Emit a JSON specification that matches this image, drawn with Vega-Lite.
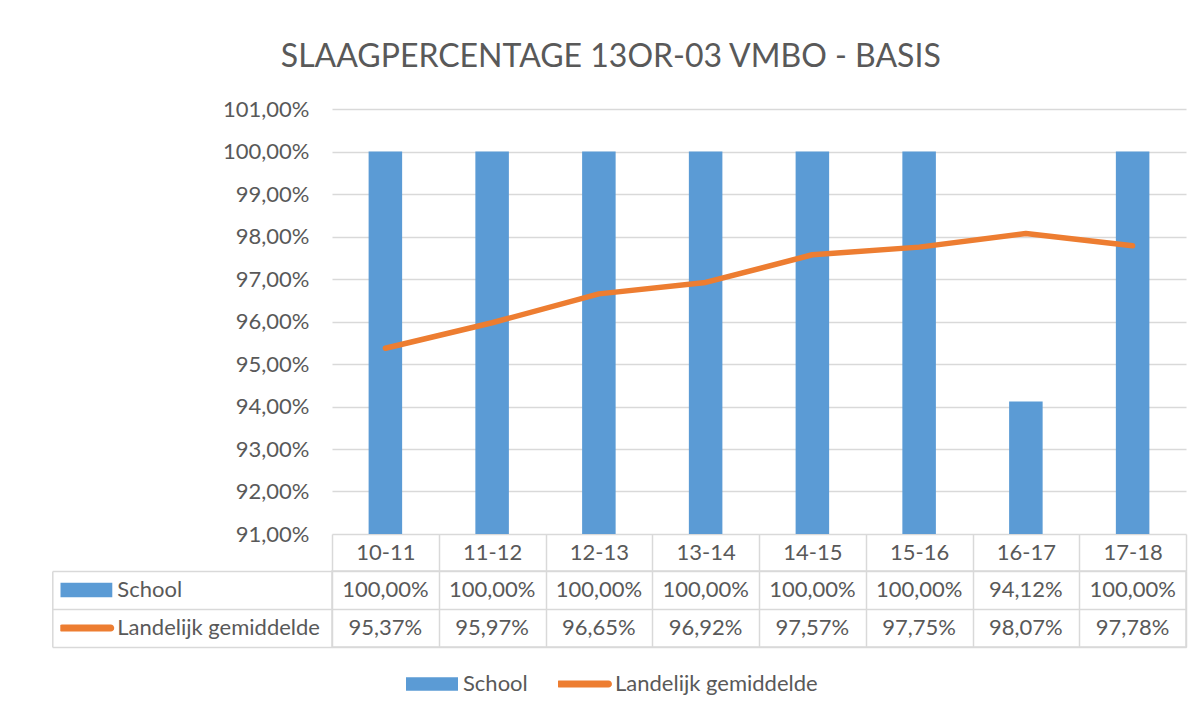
{
  "$schema": "https://vega.github.io/schema/vega-lite/v6.json",
  "padding": {"left": 50, "top": 41, "right": 10, "bottom": 5},
  "bounds": "flush",
  "spacing": 37,
  "title": {"text": "SLAAGPERCENTAGE 13OR-03 VMBO - BASIS", "font": "Lato", "fontSize": 32, "fontWeight": "normal", "color": "#595959", "anchor": "middle", "offset": 24, "dx": -8},
  "config": {
    "locale": {"number": {"decimal": ",", "thousands": ".", "grouping": [3], "currency": ["€", ""]}},
    "font": "Lato",
    "view": {"stroke": null}
  },
  "data": {"values": [
    {"year": "10-11", "series": "School", "value": 1.0},
    {"year": "11-12", "series": "School", "value": 1.0},
    {"year": "12-13", "series": "School", "value": 1.0},
    {"year": "13-14", "series": "School", "value": 1.0},
    {"year": "14-15", "series": "School", "value": 1.0},
    {"year": "15-16", "series": "School", "value": 1.0},
    {"year": "16-17", "series": "School", "value": 0.9412},
    {"year": "17-18", "series": "School", "value": 1.0},
    {"year": "10-11", "series": "Landelijk gemiddelde", "value": 0.9537},
    {"year": "11-12", "series": "Landelijk gemiddelde", "value": 0.9597},
    {"year": "12-13", "series": "Landelijk gemiddelde", "value": 0.9665},
    {"year": "13-14", "series": "Landelijk gemiddelde", "value": 0.9692},
    {"year": "14-15", "series": "Landelijk gemiddelde", "value": 0.9757},
    {"year": "15-16", "series": "Landelijk gemiddelde", "value": 0.9775},
    {"year": "16-17", "series": "Landelijk gemiddelde", "value": 0.9807},
    {"year": "17-18", "series": "Landelijk gemiddelde", "value": 0.9778}
  ]},
  "resolve": {"scale": {"color": "independent"}},
  "vconcat": [
    {
      "width": 854,
      "height": 425,
      "layer": [
        {
          "transform": [{"filter": "datum.series === 'School'"}],
          "mark": {"type": "bar", "width": {"band": 0.314}},
          "encoding": {
            "x": {"field": "year", "type": "nominal", "sort": null, "title": null,
                  "scale": {"paddingInner": 0, "paddingOuter": 0},
                  "axis": {"orient": "bottom", "tickBand": "extent", "ticks": true, "tickSize": 37, "tickColor": "#d9d9d9", "tickWidth": 1.5,
                           "domain": false, "grid": false, "labelAngle": 0, "labelFont": "Lato", "labelFontSize": 22, "labelColor": "#595959",
                           "labelBaseline": "middle", "labelPadding": -19}},
            "y": {"field": "value", "type": "quantitative", "title": null,
                  "scale": {"domain": [0.91, 1.01], "nice": false, "zero": false},
                  "axis": {"values": [0.91, 0.92, 0.93, 0.94, 0.95, 0.96, 0.97, 0.98, 0.99, 1.0, 1.01], "format": ".2%",
                           "domain": false, "ticks": false, "grid": true, "gridColor": "#d9d9d9", "gridWidth": 1.5,
                           "labelFont": "Lato", "labelFontSize": 22, "labelColor": "#595959", "labelPadding": 23}},
            "y2": {"datum": 0.91},
            "color": {"field": "series", "type": "nominal",
                      "scale": {"domain": ["School", "Landelijk gemiddelde"], "range": ["#5b9bd5", "#ed7d31"]},
                      "legend": {"title": null, "orient": "none", "direction": "horizontal", "legendX": 74, "legendY": 556,
                                 "padding": 0, "clipHeight": 38, "symbolSize": 2704, "labelOffset": 5, "columnPadding": 30, "labelLimit": 0,
                                 "labelFont": "Lato", "labelFontSize": 22, "labelColor": "#595959",
                                 "encode": {"symbols": {"update": {
                                   "shape": {"signal": "datum.value === 'School' ? 'M-1,-0.26H1V0.26H-1Z' : 'M-0.94,-0.135H0.94A0.135,0.135 0 0 1 0.94,0.135H-0.94A0.135,0.135 0 0 1 -0.94,-0.135Z'"},
                                   "fill": {"signal": "datum.value === 'School' ? '#5b9bd5' : '#ed7d31'"},
                                   "stroke": {"value": "transparent"},
                                   "strokeWidth": {"value": 0},
                                   "opacity": {"value": 1}
                                 }}}}}
          }
        },
        {
          "transform": [{"filter": "datum.series === 'Landelijk gemiddelde'"}],
          "mark": {"type": "line", "strokeWidth": 5.5, "strokeCap": "round", "strokeJoin": "round"},
          "encoding": {
            "x": {"field": "year", "type": "nominal", "sort": null},
            "y": {"field": "value", "type": "quantitative"},
            "color": {"field": "series", "type": "nominal"}
          }
        }
      ]
    },
    {
      "width": 854,
      "height": 76,
      "view": {"stroke": "#d9d9d9", "strokeWidth": 1.5},
      "resolve": {"axis": {"y": "independent"}},
      "layer": [
        {
          "mark": {"type": "text", "font": "Lato", "fontSize": 22, "color": "#595959", "baseline": "middle"},
          "encoding": {
            "x": {"field": "year", "type": "nominal", "sort": null, "title": null,
                  "scale": {"paddingInner": 0, "paddingOuter": 0},
                  "axis": {"tickBand": "extent", "grid": true, "gridColor": "#d9d9d9", "gridWidth": 1.5, "labels": false, "ticks": false, "domain": false}},
            "y": {"field": "series", "type": "nominal", "sort": ["School", "Landelijk gemiddelde"], "title": null,
                  "scale": {"paddingInner": 0, "paddingOuter": 0},
                  "axis": {"orient": "left", "tickBand": "extent", "grid": true, "gridColor": "#d9d9d9", "gridWidth": 1.5,
                           "ticks": true, "tickSize": 279.7, "tickColor": "#d9d9d9", "tickWidth": 1.5, "labels": false, "domain": false}},
            "text": {"field": "value", "type": "quantitative", "format": ".2%"}
          }
        },
        {
          "mark": {"type": "bar", "opacity": 0},
          "encoding": {
            "x": {"field": "year", "type": "nominal", "sort": null},
            "y": {"field": "series", "type": "nominal", "sort": ["School", "Landelijk gemiddelde"], "title": null,
                  "axis": {"orient": "left", "offset": 279.7, "domain": true, "domainColor": "#d9d9d9", "domainWidth": 1.5, "labels": false, "ticks": false, "grid": false}},
            "color": {"field": "series", "type": "nominal",
                      "scale": {"domain": ["School", "Landelijk gemiddelde"], "range": ["#5b9bd5", "#ed7d31"]},
                      "legend": {"title": null, "orient": "none", "direction": "vertical", "legendX": -271.7, "legendY": 0,
                                 "padding": 0, "clipHeight": 38, "rowPadding": 0, "symbolSize": 2704, "labelOffset": 5, "labelLimit": 0,
                                 "labelFont": "Lato", "labelFontSize": 22, "labelColor": "#595959",
                                 "encode": {"symbols": {"update": {
                                   "shape": {"signal": "datum.value === 'School' ? 'M-1,-0.277H1V0.277H-1Z' : 'M-0.94,-0.135H0.94A0.135,0.135 0 0 1 0.94,0.135H-0.94A0.135,0.135 0 0 1 -0.94,-0.135Z'"},
                                   "fill": {"signal": "datum.value === 'School' ? '#5b9bd5' : '#ed7d31'"},
                                   "stroke": {"value": "transparent"},
                                   "strokeWidth": {"value": 0},
                                   "opacity": {"value": 1}
                                 }}}}}
          }
        }
      ]
    }
  ]
}
